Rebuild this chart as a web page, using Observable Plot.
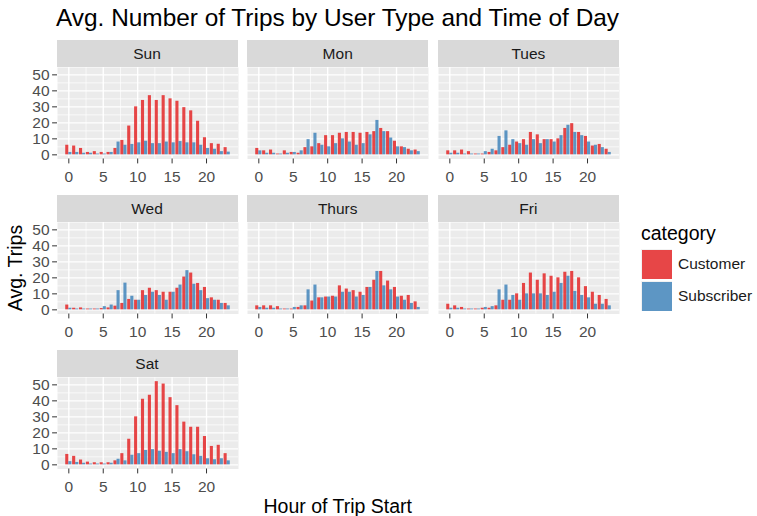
<!DOCTYPE html>
<html>
<head>
<meta charset="utf-8">
<script src="https://cdn.jsdelivr.net/npm/d3@7"></script>
<script src="https://cdn.jsdelivr.net/npm/@observablehq/plot@0.6"></script>
<style>
  body { margin: 0; background: #fff; }
  #chart { position: relative; width: 757px; height: 516px; background: #fff; overflow: hidden;
           font-family: "Liberation Sans", Arial, sans-serif; }
  .abs { position: absolute; white-space: nowrap; }
  .strip { position: absolute; background: #D9D9D9; color: #1A1A1A; font-size: 15.5px;
           text-align: center; line-height: 27px; height: 27px; }
</style>
</head>
<body>
<div id="chart"></div>
<script>
// ---- data ----
const days = ["Sun", "Mon", "Tues", "Wed", "Thurs", "Fri", "Sat"];
const categories = ["Customer", "Subscriber"];
const colors = ["#E41A1C", "#377EB8"];
const hours = [0,1,2,3,4,5,6,7,8,9,10,11,12,13,14,15,16,17,18,19,20,21,22,23];
const xTicks = [0, 5, 10, 15, 20];
const yTicks = [0, 10, 20, 30, 40, 50];
const xMinor = [2.5, 7.5, 12.5, 17.5, 22.5];
const yMinor = [5, 15, 25, 35, 45];

const sunCustomer   = [6, 5.5, 4, 1.5, 2, 1.5, 1.5, 4, 9, 18, 30, 34, 37, 34, 37, 35, 33.5, 29.5, 27.5, 21, 10.7, 7, 6.6, 4.5];
const sunSubscriber = [1.5, 1.5, 1, 1, 0.5, 0.5, 1.5, 8, 6, 6.5, 7.5, 8.5, 7, 7, 8, 7.5, 8.3, 7.5, 7.5, 6, 4, 3.5, 2, 1.7];
const monCustomer   = [4, 2.5, 3, 0.5, 2.5, 1.5, 1, 4.5, 5, 7, 12, 12, 13.5, 14, 14, 13.5, 14, 14.5, 16.5, 14.5, 8.5, 5, 3.5, 3];
const monSubscriber = [2.5, 1, 1, 0.5, 1, 1.5, 2.5, 9.5, 13.5, 6, 5, 7, 10, 8, 6, 7, 12.5, 21.5, 14.5, 10.5, 5, 4.5, 2.5, 2];
const tuesCustomer   = [2.5, 2.5, 3, 2, 0.5, 0.5, 1.5, 2.5, 4.5, 6, 8, 9.5, 14, 12.5, 9.5, 9.5, 10, 16.5, 19.5, 14, 11.5, 5.5, 6.5, 3.5];
const tuesSubscriber = [1, 1, 0.5, 0.5, 0.5, 2, 3.5, 11.5, 15, 9.5, 7, 6, 9.5, 7, 9.5, 8, 12, 18.5, 14, 12, 8, 6, 4.5, 1.5];
const wedCustomer   = [3, 1, 1.2, 0.5, 0.5, 0.8, 1.2, 2.3, 4, 6.5, 6, 12, 13.5, 12, 11, 11, 13.5, 20.5, 23, 16.5, 14, 7.5, 6, 4];
const wedSubscriber = [1, 0.5, 0.5, 0.5, 0.5, 2, 3, 12, 16.7, 8.5, 6, 9, 11, 9, 6, 11, 15.5, 24.5, 16, 12, 7, 6, 4, 2.5];
const thursCustomer   = [2.5, 2.5, 2.5, 2, 0.5, 0.5, 1.5, 2.5, 5.5, 7.5, 8, 8.5, 15, 13, 12, 11, 14, 18.5, 24, 18, 14, 8.5, 9, 5];
const thursSubscriber = [1.5, 1, 1, 0.5, 0.5, 1.5, 2.5, 12.5, 15.5, 7.5, 8, 8, 11, 11, 8, 9, 14, 24, 15, 12.5, 8, 6, 4, 1.5];
const friCustomer   = [3.5, 2.5, 1.5, 0.5, 0.5, 1, 1, 2.5, 6, 6, 10, 16.5, 23, 18.5, 22.5, 21, 20, 23.5, 24, 20, 14.5, 11, 9, 6.5];
const friSubscriber = [1, 1, 0.5, 0.5, 0.5, 1.5, 2, 12.5, 15.5, 9, 6, 10, 10, 10, 9, 11, 16.5, 21, 11.5, 9, 7.5, 3.5, 3.5, 2.5];
const satCustomer   = [6.5, 5.3, 3, 1.7, 1.3, 1.3, 1.3, 2.5, 7, 16, 30, 41, 43.5, 52, 50.5, 42, 37, 26.7, 23.5, 23.5, 17.7, 11.5, 12.2, 7];
const satSubscriber = [2, 1.5, 1, 0.5, 0.5, 0.5, 1, 3.5, 2.5, 6, 7, 9, 9.5, 8.5, 7.8, 7, 9.5, 8.2, 6.3, 5.3, 3.8, 3.2, 3.8, 2.5];

const seriesByDay = {
  Sun: [sunCustomer, sunSubscriber], Mon: [monCustomer, monSubscriber],
  Tues: [tuesCustomer, tuesSubscriber], Wed: [wedCustomer, wedSubscriber],
  Thurs: [thursCustomer, thursSubscriber], Fri: [friCustomer, friSubscriber],
  Sat: [satCustomer, satSubscriber]
};

// ---- layout ----
const chart = document.getElementById("chart");
const FONT = '"Liberation Sans", Arial, sans-serif';
const panelW = 181, panelH = 91.5;
const panelLefts = [56.5, 247.2, 437.9];
const panelTops = [67, 222, 377];
const stripH = 27;
const ML = 52, MR = 2, MB = 34;
const xDomain = [-1.645, 24.645];
const yDomain = [-2.6, 54.6];

function addDiv(text, css, cls) {
  const d = document.createElement("div");
  d.className = cls || "abs";
  d.textContent = text;
  Object.assign(d.style, css);
  chart.appendChild(d);
  return d;
}

// title
addDiv("Avg. Number of Trips by User Type and Time of Day",
  {left: "56px", top: "5.5px", fontSize: "24.4px", lineHeight: "24.4px", color: "#000"});

days.forEach((day, i) => {
  const col = i % 3, row = Math.floor(i / 3);
  const [cust, subs] = seriesByDay[day];
  const data = [];
  hours.forEach((h, k) => {
    data.push({hour: h, category: categories[0], trips: cust[k]});
    data.push({hour: h, category: categories[1], trips: subs[k]});
  });
  const left = panelLefts[col], top = panelTops[row];

  addDiv(day, {left: left + "px", top: (top - stripH) + "px", width: panelW + "px"}, "strip");

  const marks = [
    Plot.frame({fill: "#EBEBEB", stroke: "none"}),
    Plot.ruleY(yMinor, {stroke: "white", strokeWidth: 0.7}),
    Plot.ruleX(xMinor, {stroke: "white", strokeWidth: 0.7}),
    Plot.ruleY(yTicks, {stroke: "white", strokeWidth: 1.4}),
    Plot.ruleX(xTicks, {stroke: "white", strokeWidth: 1.4}),
    Plot.rectY(data, {
      x1: d => d.category === categories[0] ? d.hour - 0.45 : d.hour,
      x2: d => d.category === categories[0] ? d.hour : d.hour + 0.45,
      y: "trips", fill: "category", fillOpacity: 0.8
    }),
    Plot.axisX({ticks: xTicks, tickSize: 4.9, tickPadding: 7, fontSize: 15.5,
                color: "#4D4D4D", stroke: "#333333", label: null})
  ];
  if (col === 0) {
    marks.push(Plot.axisY({ticks: yTicks, tickSize: 4.9, tickPadding: 3, fontSize: 15.5,
                           color: "#4D4D4D", stroke: "#333333", label: null}));
  }
  const svg = Plot.plot({
    width: ML + panelW + MR,
    height: panelH + MB,
    marginLeft: ML, marginRight: MR, marginTop: 0, marginBottom: MB,
    x: {domain: xDomain, axis: null},
    y: {domain: yDomain, axis: null},
    color: {domain: categories, range: colors},
    style: {fontFamily: FONT, background: "transparent", overflow: "visible"},
    marks
  });
  svg.style.position = "absolute";
  svg.style.left = (left - ML) + "px";
  svg.style.top = top + "px";
  chart.appendChild(svg);
});

// axis titles
addDiv("Hour of Trip Start", {left: "337.7px", top: "496.5px", fontSize: "19.5px", lineHeight: "19.5px",
  color: "#000", transform: "translateX(-50%)"});
addDiv("Avg. Trips", {left: "15.5px", top: "268px", fontSize: "19.5px", lineHeight: "19.5px",
  color: "#000", transform: "translate(-50%, -50%) rotate(-90deg)"});

// legend
addDiv("category", {left: "641px", top: "223.5px", fontSize: "19.5px", lineHeight: "19.5px", color: "#000"});
const swTops = [249, 281];
categories.forEach((c, k) => {
  const box = document.createElement("div");
  box.className = "abs";
  Object.assign(box.style, {left: "641px", top: swTops[k] + "px", width: "31px", height: "30px",
    background: "#F2F2F2"});
  const sw = document.createElement("div");
  Object.assign(sw.style, {position: "absolute", left: "0.5px", top: "0.5px", right: "0.5px", bottom: "0.5px",
    background: colors[k], opacity: 0.8});
  box.appendChild(sw);
  chart.appendChild(box);
  addDiv(c, {left: "678px", top: (swTops[k] + 15 + 5.5 - 13.1) + "px", fontSize: "15.5px",
    lineHeight: "15.5px", color: "#1A1A1A"});
});
</script>
</body>
</html>
